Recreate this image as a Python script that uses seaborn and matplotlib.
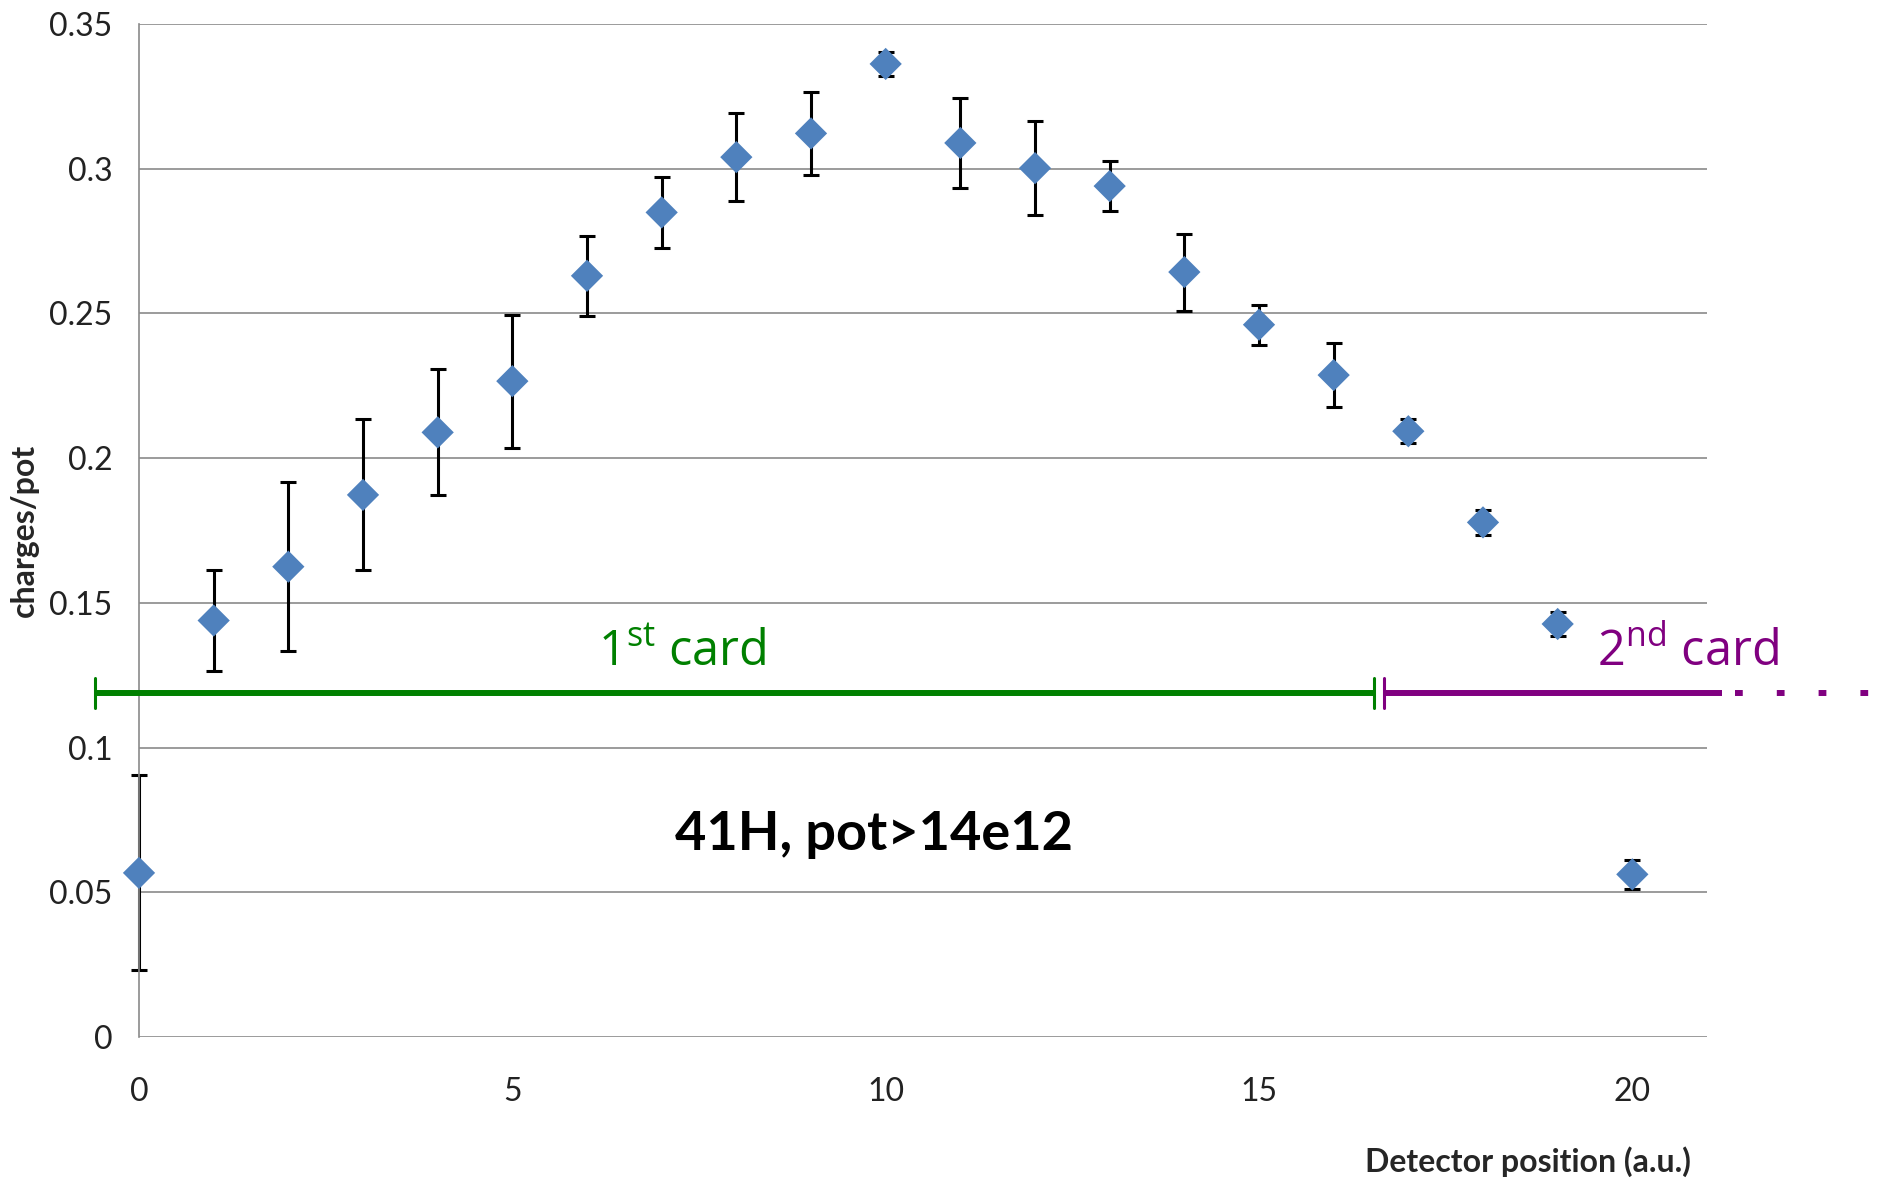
import numpy as np
import pandas as pd
import matplotlib
matplotlib.use("Agg")
import matplotlib.pyplot as plt
import seaborn as sns

# ---- data ----
positions = [0, 1, 2, 3, 4, 5, 6, 7, 8, 9, 10, 11, 12, 13, 14, 15, 16, 17, 18, 19, 20]
charges = [0.0567, 0.1439, 0.1625, 0.1873, 0.2089, 0.2266, 0.2630, 0.2849, 0.3040, 0.3122,
           0.3362, 0.3089, 0.3002, 0.2940, 0.2643, 0.2461, 0.2287, 0.2093, 0.1778, 0.1427, 0.0562]
errors = [0.0337, 0.0176, 0.0293, 0.0261, 0.0218, 0.0230, 0.0139, 0.0122, 0.0151, 0.0143,
          0.0040, 0.0157, 0.0162, 0.0087, 0.0133, 0.0069, 0.0110, 0.0042, 0.0044, 0.0042, 0.0050]
x_ticks = [0, 5, 10, 15, 20]
y_ticks = [0, 0.05, 0.1, 0.15, 0.2, 0.25, 0.3, 0.35]
y_tick_labels = ["0", "0.05", "0.1", "0.15", "0.2", "0.25", "0.3", "0.35"]

card1_span = (-0.59, 16.54)
card2_span = (16.68, 21.2)
card2_dots = (21.38, 23.3)
card_y = 0.1187

df = pd.DataFrame({"pos": positions, "charge": charges, "err": errors})

sns.set_theme(style="white")
plt.rcParams["font.family"] = ["Lato", "DejaVu Sans"]
plt.rcParams["mathtext.fontset"] = "custom"
plt.rcParams["mathtext.rm"] = "Open Sans"
plt.rcParams["mathtext.it"] = "Open Sans"

fig = plt.figure(figsize=(18.78, 11.81), dpi=100)
ax = fig.add_axes([139 / 1878, 1 - 1037 / 1181, (1707 - 139) / 1878, (1037 - 24) / 1181])

grid_col = "#8a8a8a"
for yt in y_ticks:
    ax.axhline(yt, color=grid_col, lw=1.2, zorder=0)

eb = ax.errorbar(df["pos"], df["charge"], yerr=df["err"], fmt="none", ecolor="black",
                 elinewidth=2.2, capsize=6, capthick=2.2, zorder=2)
for artist in eb.lines[1] + eb.lines[2]:
    artist.set_clip_on(False)
sns.scatterplot(data=df, x="pos", y="charge", marker="D", s=270, color="#4F81BD",
                edgecolor="none", ax=ax, zorder=3, legend=False, clip_on=False)

ax.set_xlim(0, 21)
ax.set_ylim(0, 0.35)
ax.set_xticks(x_ticks)
ax.set_xticklabels([str(v) for v in x_ticks])
ax.set_yticks(y_ticks)
ax.set_yticklabels(y_tick_labels)
ax.tick_params(axis="both", labelsize=23, colors=grid_col, labelcolor="#222222",
               length=9, width=1.2, direction="out")
ax.tick_params(axis="x", pad=20)
ax.tick_params(axis="y", pad=10)

for s in ["top", "right", "bottom"]:
    ax.spines[s].set_visible(False)
ax.spines["left"].set_color(grid_col)
ax.spines["left"].set_linewidth(1.2)

ax.set_xlabel("Detector position (a.u.)", fontsize=23, fontweight="bold", ha="right")
ax.xaxis.set_label_coords(0.99, -0.108)
ax.set_ylabel("charges/pot", fontsize=23, fontweight="bold")
ax.yaxis.set_label_coords(-0.064, 0.5)

# card annotations
green = "#008000"
purple = "#800080"
ax.plot(card1_span, [card_y, card_y], color=green, lw=4.3, solid_capstyle="butt", clip_on=False, zorder=4)
for xv in card1_span:
    ax.plot([xv, xv], [card_y - 0.0052, card_y + 0.0052], color=green, lw=2.2, clip_on=False, zorder=4)
ax.plot(card2_span, [card_y, card_y], color=purple, lw=4.3, solid_capstyle="butt", clip_on=False, zorder=4)
ax.plot([card2_span[0], card2_span[0]], [card_y - 0.0052, card_y + 0.0052], color=purple, lw=2.2,
        clip_on=False, zorder=4)
ax.plot(card2_dots, [card_y, card_y], color=purple, lw=4.3, linestyle=(0, (1.3, 5.7)),
        dash_capstyle="butt", clip_on=False, zorder=4)

ax.text(7.28, 0.1282, r"1$^{\mathrm{st}}$ card", color=green, fontsize=35, family="Open Sans",
        ha="center", va="baseline")
ax.text(20.74, 0.1282, r"2$^{\mathrm{nd}}$ card", color=purple, fontsize=35, family="Open Sans",
        ha="center", va="baseline", clip_on=False)

ax.text(9.85, 0.0699, "41H, pot>14e12", fontsize=39, fontweight="bold", ha="center", va="center",
        color="black")

fig.savefig("out.png", dpi=100)
